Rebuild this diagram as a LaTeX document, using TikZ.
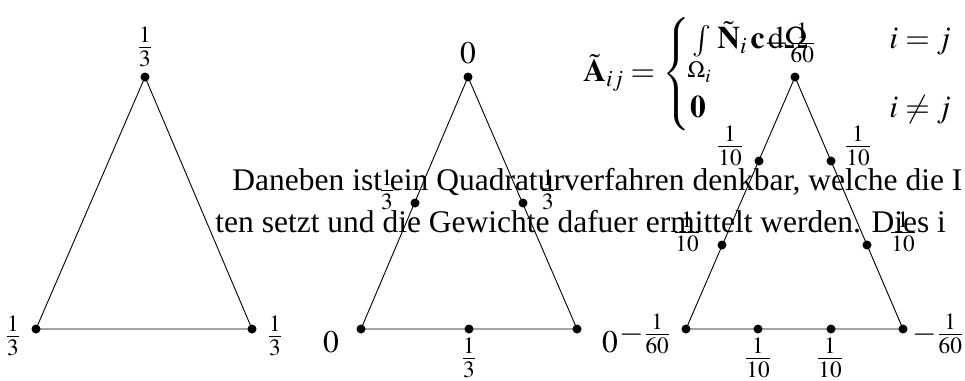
\documentclass[tikz,border=0pt]{standalone}
\usepackage{amsmath}
\usepackage{mathptmx}
\usepackage[no-math]{fontspec}
\setmainfont{Liberation Serif}

\begin{document}
\begin{tikzpicture}[
  x=1pt, y=-1pt, line width=0.9pt,
  every node/.style={font=\fontsize{31.5}{38}\selectfont},
  dot/.style={circle, fill=black, inner sep=0pt, minimum size=9pt},
  wt/.style={inner sep=0pt},
  txt/.style={anchor=base west, inner sep=0pt}
]
\useasboundingbox (0,0) rectangle (965,380);
\node[txt] (line1) at (232,190) {Daneben ist ein Quadraturverfahren denkbar, welche die I};
\node[txt] (line2) at (215,232) {ten setzt und die Gewichte dafuer ermittelt werden. Dies i};
\node[wt, anchor=west] (eq) at (583,74) {$\displaystyle \tilde{\mathbf{A}}_{ij} = \begin{cases} \int\limits_{\Omega_i} \tilde{\mathbf{N}}_i\,\mathbf{c}\,\mathrm{d}\Omega & \hspace{50pt} i = j\\[10pt] \mathbf{0} & \hspace{50pt} i \neq j \end{cases}$};
% linear
\node[dot] (a1) at (145,77) {};
\node[dot] (b1) at (36,329) {};
\node[dot] (c1) at (252,329) {};
\draw (a1.center) -- (b1.center) -- (c1.center) -- cycle;
\node[wt] (wa1) at (145,47) {$\frac{1}{3}$};
\node[wt] (wb1) at (13,336) {$\frac{1}{3}$};
\node[wt] (wc1) at (275,336) {$\frac{1}{3}$};
% quadratic
\node[dot] (a2) at (468,77) {};
\node[dot] (b2) at (361,329) {};
\node[dot] (c2) at (577,329) {};
\draw (a2.center) -- (b2.center) -- (c2.center) -- cycle;
\node[dot] (l2) at (415,203) {};
\node[dot] (r2) at (523,203) {};
\node[dot] (m2) at (469,329) {};
\node[wt] (wa2) at (468,53) {$0$};
\node[wt] (wb2) at (331,342) {$0$};
\node[wt] (wc2) at (610,342) {$0$};
\node[wt] (wl2) at (387,190) {$\frac{1}{3}$};
\node[wt] (wr2) at (548,190) {$\frac{1}{3}$};
\node[wt] (wm2) at (469,358) {$\frac{1}{3}$};
% cubic
\node[dot] (a3) at (795,77) {};
\node[dot] (b3) at (686,329) {};
\node[dot] (c3) at (903,329) {};
\draw (a3.center) -- (b3.center) -- (c3.center) -- cycle;
\node[dot] (ul3) at (759,161) {};
\node[dot] (ur3) at (831,161) {};
\node[dot] (dl3) at (722,245) {};
\node[dot] (dr3) at (867,245) {};
\node[dot] (p3) at (758,329) {};
\node[dot] (q3) at (831,329) {};
\node[wt] (wa3) at (790,43) {$-\frac{1}{60}$};
\node[wt] (wb3) at (645,334) {$-\frac{1}{60}$};
\node[wt] (wc3) at (938,334) {$-\frac{1}{60}$};
\node[wt] (wul3) at (730,146) {$\frac{1}{10}$};
\node[wt] (wur3) at (858,146) {$\frac{1}{10}$};
\node[wt] (wdl3) at (687,232) {$\frac{1}{10}$};
\node[wt] (wdr3) at (903,232) {$\frac{1}{10}$};
\node[wt] (wp3) at (758,358) {$\frac{1}{10}$};
\node[wt] (wq3) at (830,358) {$\frac{1}{10}$};
\end{tikzpicture}
\end{document}
